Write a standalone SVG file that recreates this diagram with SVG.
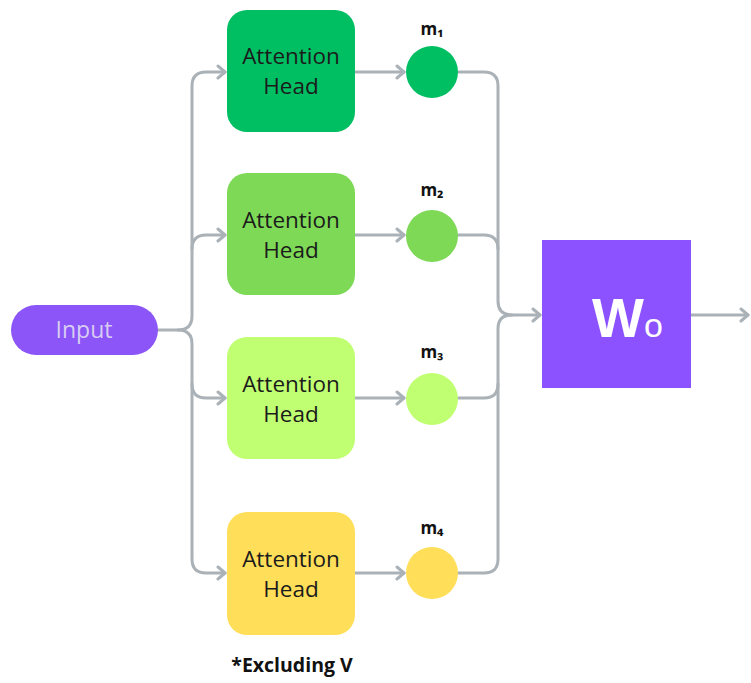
<svg xmlns="http://www.w3.org/2000/svg" width="751" height="683" viewBox="0 0 751 683">
<style>
.ln{fill:none;stroke:#AAB2B8;stroke-width:3;stroke-linecap:round;stroke-linejoin:round}
.ah{font-family:"Open Sans","Liberation Sans",sans-serif;font-size:22.5px;fill:#1b1b1b;text-anchor:middle}
.m{font-family:"Open Sans","Liberation Sans",sans-serif;font-size:17px;font-weight:bold;fill:#111;text-anchor:middle}
</style>
<defs>
<marker id="arr" markerUnits="userSpaceOnUse" markerWidth="14" markerHeight="16" refX="10" refY="8" orient="auto">
<polyline points="3,2 10,8 3,14" fill="none" stroke="#AAB2B8" stroke-width="3" stroke-linecap="round" stroke-linejoin="round"/>
</marker>
</defs>
<g id="connectors">
<path class="ln" d="M158,330 H178 Q192,330 192,316 V86 Q192,72 206,72 H225" marker-end="url(#arr)"/>
<path class="ln" d="M178,330 Q192,330 192,344 V559 Q192,573 206,573 H225" marker-end="url(#arr)"/>
<path class="ln" d="M192,249 Q192,235 206,235 H225" marker-end="url(#arr)"/>
<path class="ln" d="M192,384 Q192,398 206,398 H225" marker-end="url(#arr)"/>
<path class="ln" d="M355,72 H404" marker-end="url(#arr)"/>
<path class="ln" d="M355,235 H404" marker-end="url(#arr)"/>
<path class="ln" d="M355,398 H404" marker-end="url(#arr)"/>
<path class="ln" d="M355,573 H404" marker-end="url(#arr)"/>
<path class="ln" d="M458,72 H484 Q498,72 498,86 V301 Q498,315 512,315 H540" marker-end="url(#arr)"/>
<path class="ln" d="M458,573 H484 Q498,573 498,559 V329 Q498,315 512,315"/>
<path class="ln" d="M458,235 H484 Q498,235 498,249"/>
<path class="ln" d="M458,398 H484 Q498,398 498,384"/>
<path class="ln" d="M691,315 H748" marker-end="url(#arr)"/>
</g>
<g id="input">
<rect x="11" y="305" width="147" height="50" rx="25" fill="#8B55F8"/>
<text x="84" y="338" font-family="Open Sans, Liberation Sans, sans-serif" font-size="23" fill="#D9CCF2" text-anchor="middle">Input</text>
</g>
<g id="head1">
<rect x="227" y="10" width="128" height="122" rx="20" fill="#00BF63"/>
<text class="ah" x="291" y="64">Attention</text>
<text class="ah" x="291" y="94">Head</text>
</g>
<g id="head2">
<rect x="227" y="173" width="128" height="122" rx="20" fill="#7ED957"/>
<text class="ah" x="291" y="228">Attention</text>
<text class="ah" x="291" y="258">Head</text>
</g>
<g id="head3">
<rect x="227" y="337" width="128" height="122" rx="20" fill="#C1FF72"/>
<text class="ah" x="291" y="392">Attention</text>
<text class="ah" x="291" y="422">Head</text>
</g>
<g id="head4">
<rect x="227" y="512" width="128" height="123" rx="20" fill="#FFDE59"/>
<text class="ah" x="291" y="567">Attention</text>
<text class="ah" x="291" y="597">Head</text>
</g>
<g id="m1">
<circle cx="432" cy="72" r="26" fill="#00BF63"/>
<text class="m" x="432" y="35">m₁</text>
</g>
<g id="m2">
<circle cx="432" cy="236" r="26" fill="#7ED957"/>
<text class="m" x="432" y="196">m₂</text>
</g>
<g id="m3">
<circle cx="432" cy="399" r="26" fill="#C1FF72"/>
<text class="m" x="432" y="358">m₃</text>
</g>
<g id="m4">
<circle cx="432" cy="573" r="26" fill="#FFDE59"/>
<text class="m" x="432" y="534">m₄</text>
</g>
<g id="wo">
<rect x="542" y="240" width="149" height="148" fill="#8C52FF"/>
<text x="592" y="337" font-family="Liberation Sans, sans-serif" font-size="55" font-weight="bold" fill="#fff">W<tspan font-size="34" font-weight="normal">o</tspan></text>
</g>
<g id="note">
<text x="292" y="672" font-family="Open Sans, Liberation Sans, sans-serif" font-size="19.5" font-weight="bold" fill="#111" text-anchor="middle">*Excluding V</text>
</g>
</svg>
